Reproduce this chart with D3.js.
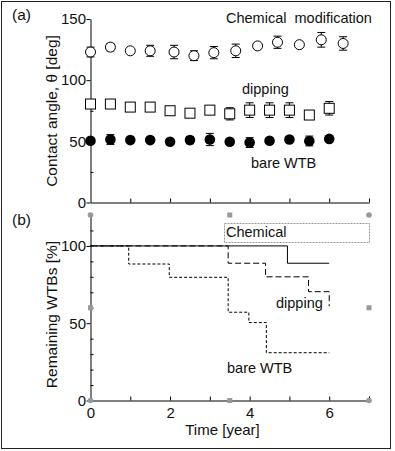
<!DOCTYPE html>
<html>
<head>
<meta charset="utf-8">
<script src="https://cdn.jsdelivr.net/npm/d3@7"></script>
<style>
  body { margin: 0; background: #fff; }
  svg { display: block; font-family: "Liberation Sans", Arial, sans-serif; }
  .axis path, .axis line { stroke: #000; }
  .axis text { font-size: 15px; fill: #111; font-family: "Liberation Sans", Arial, sans-serif; }
</style>
</head>
<body>
<div id="grafico"></div>
<script>
// (a) contact angle vs time
const chemTime = [0, 0.5, 1, 1.5, 2.1, 2.6, 3.1, 3.65, 4.2, 4.7, 5.25, 5.8, 6.35];
const chemAngle = [123, 127, 124, 124, 123, 120, 122.5, 124, 128, 131, 129, 133, 130];
const chemErr = [4, 3, 1, 4.5, 5.5, 4, 5, 5.5, 1, 5, 1.5, 6, 5.5];

const sampleTime = [0, 0.5, 1, 1.5, 2, 2.5, 3, 3.5, 4, 4.5, 5, 5.5, 6];
const dipAngle = [80.5, 80.5, 78, 78, 75, 73, 75.5, 72.5, 75.5, 75.5, 75.5, 71.5, 77];
const dipErr = [1, 1, 1, 1, 1, 1, 2, 5, 6, 6, 6, 2, 5.5];
const bareAngle = [50.5, 51.5, 51, 51, 49.7, 51, 51.5, 49.7, 49, 50.5, 51.5, 50.3, 52];
const bareErr = [2, 4, 2, 2, 2, 3, 5, 2, 4, 2, 2, 4, 2];

// (b) remaining WTBs, step curves
const chemSurvTime = [0, 4.95, 6];
const chemSurv = [100, 88.8, 88.8];
const dipSurvTime = [0, 3.46, 4.4, 5.48, 6];
const dipSurv = [100, 88.8, 80, 70.4, 61];
const bareSurvTime = [0, 0.96, 1.98, 3.46, 3.98, 4.42, 6];
const bareSurv = [100, 88.3, 79.7, 57.1, 50.4, 30.9, 30.9];

// ticks
const angleTicks = [0, 50, 100, 150];
const angleMinor = [25, 75, 125];
const remainTicks = [0, 50, 100];
const remainMinor = [10, 20, 30, 40, 60, 70, 80, 90, 110];
const yearTicks = [0, 1, 2, 3, 4, 5, 6, 7];
const yearLabels = [0, 2, 4, 6];

const width = 395;
const height = 451;

const svg = d3.select('#grafico')
    .append('svg')
    .attr('width', width)
    .attr('height', height);

// marco exterior
svg.append('rect')
    .attr('x', 1.5).attr('y', 1.5)
    .attr('width', 389).attr('height', 447)
    .attr('fill', 'none')
    .attr('stroke', '#222');

const xScale = d3.scaleLinear().domain([0, 7]).range([90.5, 369]);
const yA = d3.scaleLinear().domain([0, 150]).range([202.5, 19]);
const yB = d3.scaleLinear().domain([0, 120]).range([400.5, 215]);

function yAxes(y, major, minor) {
    svg.append('g')
        .attr('class', 'axis')
        .attr('transform', 'translate(90.5,0)')
        .call(d3.axisLeft(y).tickValues(major).tickSizeInner(4).tickSizeOuter(0).tickPadding(0.5));
    svg.append('g')
        .attr('class', 'axis')
        .attr('transform', 'translate(90.5,0)')
        .call(d3.axisRight(y).tickValues(minor).tickSize(3).tickFormat(''))
        .select('.domain').remove();
}

function xAxis(y0, labels) {
    const g = svg.append('g')
        .attr('class', 'axis')
        .attr('transform', `translate(0,${y0})`)
        .call(d3.axisBottom(xScale)
            .tickValues(yearTicks)
            .tickSizeInner(-4)
            .tickSizeOuter(0)
            .tickPadding(7)
            .tickFormat(d => labels.includes(d) ? d : ''));
    g.selectAll('.tick').filter(d => d === 0).select('line').remove();
}

// ---------- panel (a) ----------
xAxis(202.5, []);
yAxes(yA, angleTicks, angleMinor);

function errorBars(times, vals, errs) {
    const d = times.map((t, i) => ({ t, v: vals[i], e: errs[i] }));
    const g = svg.append('g').attr('stroke', '#000').attr('stroke-width', 1);
    g.selectAll('line.v').data(d).enter().append('line')
        .attr('x1', p => xScale(p.t)).attr('x2', p => xScale(p.t))
        .attr('y1', p => yA(p.v + p.e)).attr('y2', p => yA(p.v - p.e));
    [1, -1].forEach(s => {
        g.selectAll(null).data(d).enter().append('line')
            .attr('x1', p => xScale(p.t) - 4).attr('x2', p => xScale(p.t) + 4)
            .attr('y1', p => yA(p.v + s * p.e)).attr('y2', p => yA(p.v + s * p.e));
    });
}

errorBars(chemTime, chemAngle, chemErr);
errorBars(sampleTime, dipAngle, dipErr);
errorBars(sampleTime, bareAngle, bareErr);

svg.append('g').selectAll('circle')
    .data(chemTime.map((t, i) => [t, chemAngle[i]]))
    .enter().append('circle')
    .attr('cx', d => xScale(d[0]))
    .attr('cy', d => yA(d[1]))
    .attr('r', 5)
    .attr('fill', '#fff')
    .attr('stroke', '#000');

svg.append('g').selectAll('rect')
    .data(sampleTime.map((t, i) => [t, dipAngle[i]]))
    .enter().append('rect')
    .attr('x', d => xScale(d[0]) - 5)
    .attr('y', d => yA(d[1]) - 5)
    .attr('width', 10)
    .attr('height', 10)
    .attr('fill', '#fff')
    .attr('stroke', '#000');

svg.append('g').selectAll('circle')
    .data(sampleTime.map((t, i) => [t, bareAngle[i]]))
    .enter().append('circle')
    .attr('cx', d => xScale(d[0]))
    .attr('cy', d => yA(d[1]))
    .attr('r', 5.3)
    .attr('fill', '#000');

// ---------- panel (b) ----------
xAxis(400.5, yearLabels);
yAxes(yB, remainTicks, remainMinor);

const line = d3.line()
    .x(d => xScale(d[0]))
    .y(d => yB(d[1]))
    .curve(d3.curveStepAfter);

svg.append('path')
    .datum(chemSurvTime.map((t, i) => [t, chemSurv[i]]))
    .attr('d', line)
    .attr('fill', 'none')
    .attr('stroke', '#000');

svg.append('path')
    .datum(dipSurvTime.map((t, i) => [t, dipSurv[i]]))
    .attr('d', line)
    .attr('fill', 'none')
    .attr('stroke', '#000')
    .attr('stroke-dasharray', '6,3');

svg.append('path')
    .datum(bareSurvTime.map((t, i) => [t, bareSurv[i]]))
    .attr('d', line)
    .attr('fill', 'none')
    .attr('stroke', '#000')
    .attr('stroke-dasharray', '3,2');

// caja punteada de "Chemical"
svg.append('rect')
    .attr('x', 224.5).attr('y', 223.5)
    .attr('width', 145).attr('height', 19)
    .attr('fill', 'none')
    .attr('stroke', '#999')
    .attr('stroke-dasharray', '2,1');

// handles grises de seleccion
const hx = [0, 3.5, 7];
const hy = [120, 60, 0];
hy.forEach((vy, j) => {
    hx.forEach((vx, i) => {
        if (i === 1 && j === 1) return;
        const cx = xScale(vx), cy = yB(vy);
        if (i !== 1 && j !== 1) {
            svg.append('circle').attr('cx', cx).attr('cy', cy).attr('r', 2.8).attr('fill', '#999');
        } else {
            svg.append('rect').attr('x', cx - 2.5).attr('y', cy - 2.5)
                .attr('width', 5).attr('height', 5).attr('fill', '#999');
        }
    });
});

// textos
const texts = [
    { t: '(a)', x: 12, y: 20, s: 15.5 },
    { t: '(b)', x: 12, y: 225, s: 15.5 },
    { t: 'Chemical\u00a0\u00a0modification', x: 226, y: 23, s: 14.5 },
    { t: 'dipping', x: 242, y: 94, s: 14.5 },
    { t: 'bare WTB', x: 251, y: 168, s: 14.5 },
    { t: 'Chemical', x: 226, y: 237, s: 14.5 },
    { t: 'dipping', x: 276, y: 308, s: 14.5 },
    { t: 'bare WTB', x: 227, y: 373, s: 14.5 }
];
svg.selectAll('text.lbl')
    .data(texts)
    .enter().append('text')
    .attr('class', 'lbl')
    .attr('x', d => d.x)
    .attr('y', d => d.y)
    .attr('font-size', d => d.s)
    .attr('fill', '#111')
    .text(d => d.t);

svg.append('text')
    .attr('transform', 'translate(56.5,111) rotate(-90)')
    .attr('text-anchor', 'middle')
    .attr('font-size', 15.5)
    .attr('fill', '#111')
    .text('Contact angle, θ [deg]');

svg.append('text')
    .attr('transform', 'translate(56.5,314.5) rotate(-90)')
    .attr('text-anchor', 'middle')
    .attr('font-size', 15.5)
    .attr('fill', '#111')
    .text('Remaining WTBs [%]');

svg.append('text')
    .attr('x', 222.5)
    .attr('y', 435)
    .attr('text-anchor', 'middle')
    .attr('font-size', 15)
    .attr('fill', '#111')
    .text('Time [year]');
</script>
</body>
</html>
